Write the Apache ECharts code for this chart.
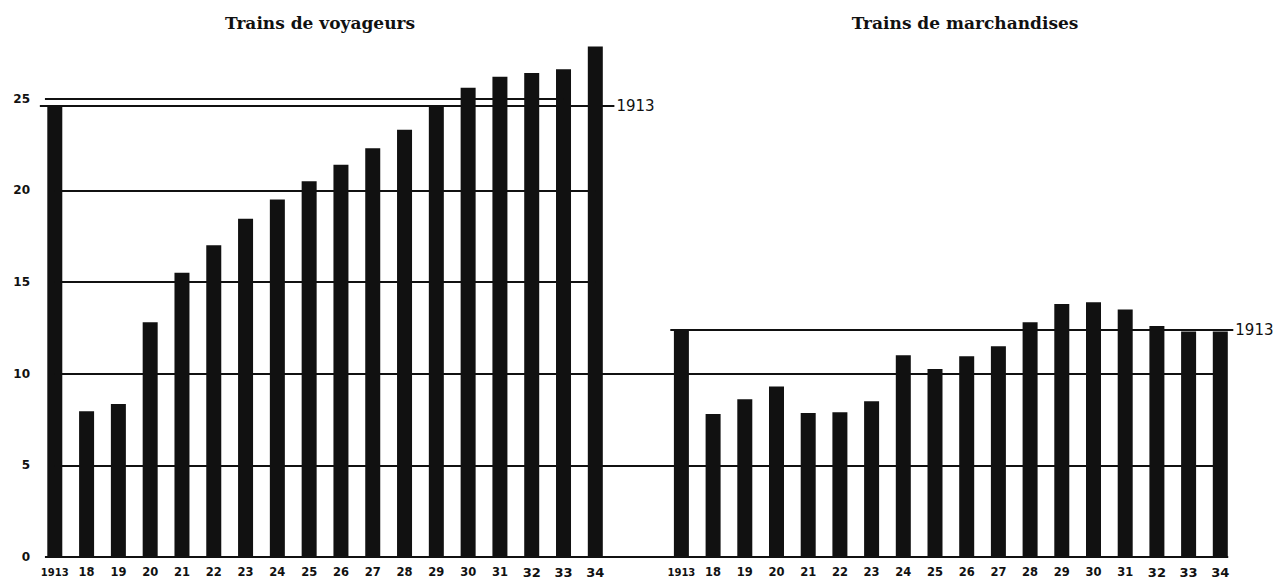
<!DOCTYPE html>
<html><head><meta charset="utf-8">
<script src="https://cdn.jsdelivr.net/npm/echarts@6/dist/echarts.min.js"></script>
<style>html,body{margin:0;padding:0;background:#fff}#c{width:1274px;height:580px}</style>
</head><body><div id="c"></div>
<script>
// ---- data ----
const titles = ['Trains de voyageurs', 'Trains de marchandises'];
const leftLabels  = ['1913','18','19','20','21','22','23','24','25','26','27','28','29','30','31','32','33','34'];
const rightLabels = ['1913','18','19','20','21','22','23','24','25','26','27','28','29','30','31','32','33','34'];
const leftValues  = [24.6, 7.95, 8.35, 12.8, 15.5, 17.0, 18.45, 19.5, 20.5, 21.4, 22.3, 23.3, 24.55, 25.6, 26.2, 26.4, 26.6, 27.85];
const rightValues = [12.4, 7.8, 8.6, 9.3, 7.85, 7.9, 8.5, 11.0, 10.25, 10.95, 11.5, 12.8, 13.8, 13.9, 13.5, 12.6, 12.3, 12.3];
const yTickLabels = [0, 5, 10, 15, 20, 25];
const refLabel = '1913';

// ---- chart ----
const INK = '#111';
const chart = echarts.init(document.getElementById('c'), null, {renderer: 'svg'});

function hl(y, x0, x1, extra) {
  return [Object.assign({coord: [x0, y]}, extra || {}), {coord: [x1, y]}];
}
const refLab = {label: {show: true, position: 'end', formatter: refLabel, color: INK,
  fontFamily: 'DejaVu Sans', fontSize: 15, distance: 2}};

function xLabelFmt(labels) {
  return function (v) {
    const i = Math.round(v);
    if (Math.abs(v - i) > 1e-6 || i < 0 || i >= labels.length) return '';
    const s = labels[i];
    if (i >= 15) return '{b|' + s + '}';
    if (i === 0) return '{s|' + s + '}';
    return '{m|' + s + '}';
  };
}
const xRich = {
  s: {fontFamily: 'DejaVu Sans', fontWeight: 'bold', fontSize: 10, lineHeight: 12, color: INK},
  m: {fontFamily: 'DejaVu Sans', fontWeight: 'bold', fontSize: 11.5, lineHeight: 12, color: INK},
  b: {fontFamily: 'DejaVu Sans', fontWeight: 'bold', fontSize: 13, lineHeight: 12, color: INK}
};
// y scale: 0 at 557px, 18.33 px per unit (min -1 keeps the zero line inside the grid)
const unitPx = 18.33;
const gridBottom = 23 - unitPx;
function xAxisOf(gi, min, max, labels) {
  return {gridIndex: gi, type: 'value', min: min, max: max, interval: 1, offset: -unitPx,
    axisLine: {show: false, onZero: false}, axisTick: {show: false}, splitLine: {show: false},
    axisLabel: {formatter: xLabelFmt(labels), margin: 9, rich: xRich, color: INK, lineHeight: 12}};
}
const lineStyle = {color: INK, width: 2, type: 'solid'};

const option = {
  animation: false,
  backgroundColor: '#fff',
  graphic: [
    {type: 'text', x: 320, y: 23, style: {text: titles[0], textAlign: 'center', textVerticalAlign: 'middle',
      font: 'bold 17px "DejaVu Serif"', fill: INK}},
    {type: 'text', x: 965, y: 23, style: {text: titles[1], textAlign: 'center', textVerticalAlign: 'middle',
      font: 'bold 17px "DejaVu Serif"', fill: INK}}
  ],
  grid: [
    {left: 23, right: 631, top: 7, bottom: gridBottom, outerBoundsMode: 'none', containLabel: false},
    {left: 618, right: 22, top: 7, bottom: gridBottom, outerBoundsMode: 'none', containLabel: false}
  ],
  xAxis: [xAxisOf(0, -1, 18.5, leftLabels), xAxisOf(1, -2, 18, rightLabels)],
  yAxis: [
    {gridIndex: 0, type: 'value', min: -1, max: 30, interval: 1, offset: -10,
      axisLine: {show: false}, axisTick: {show: false}, splitLine: {show: false},
      axisLabel: {formatter: v => yTickLabels.indexOf(v) >= 0 ? String(v) : '', margin: 3,
        fontFamily: 'DejaVu Sans', fontWeight: 'bold', fontSize: 12, color: INK, padding: [0, 0, 6, 0]}},
    {gridIndex: 1, type: 'value', min: -1, max: 30, interval: 1,
      axisLine: {show: false}, axisTick: {show: false}, splitLine: {show: false}, axisLabel: {show: false}}
  ],
  series: [
    {type: 'bar', xAxisIndex: 0, yAxisIndex: 0, barWidth: 15, z: 3,
      itemStyle: {color: INK},
      data: leftValues.map((v, i) => [i, v]),
      markLine: {silent: true, symbol: 'none', label: {show: false}, lineStyle: lineStyle,
        data: [
          hl(25, -0.31, 16),
          hl(leftValues[0], -0.47, 17.6, refLab),
          hl(20, 0, 17), hl(15, 0, 17),
          hl(10, 0, 18.5), hl(5, 0, 18.5),
          hl(0, -0.31, 18.5)
        ]}},
    {type: 'bar', xAxisIndex: 1, yAxisIndex: 1, barWidth: 15, z: 3,
      itemStyle: {color: INK},
      data: rightValues.map((v, i) => [i, v]),
      markLine: {silent: true, symbol: 'none', label: {show: false}, lineStyle: lineStyle,
        data: [
          hl(rightValues[0], -0.35, 17.41, refLab),
          hl(10, -2, 17), hl(5, -2, 17),
          hl(0, -2, 17.25)
        ]}}
  ]
};
chart.setOption(option);
</script></body></html>
